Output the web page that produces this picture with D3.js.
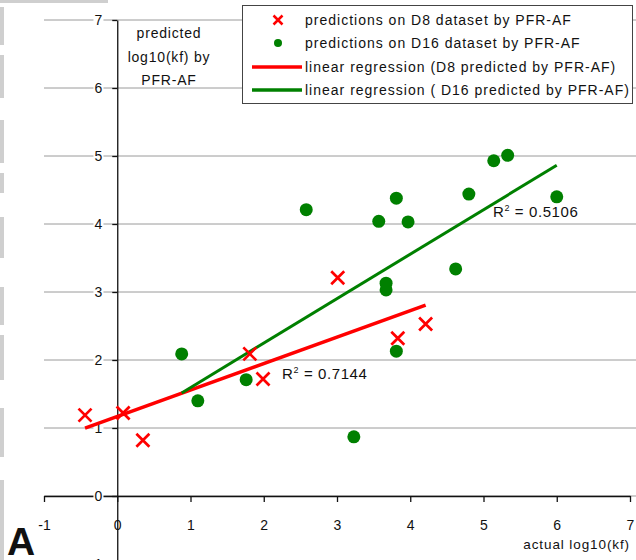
<!DOCTYPE html>
<html>
<head>
<meta charset="utf-8">
<style>
  body { margin: 0; background: #fff; }
  text { font-family: "Liberation Sans", Arial, sans-serif; fill: #111; }
</style>
</head>
<body>
<div id="my_dataviz"></div>
<script src="https://d3js.org/d3.v7.min.js"></script>
<script>
// actual vs predicted log10(kf)
var d8Actual     = [-0.44, 0.08, 0.35, 1.81, 1.99, 3.01, 3.83, 4.21];
var d8Predicted  = [ 1.19, 1.22, 0.82, 2.09, 1.72, 3.21, 2.32, 2.53];
var d16Actual    = [0.88, 1.10, 1.76, 2.58, 3.23, 3.57, 3.67, 3.67, 3.81, 3.81, 3.97, 4.62, 4.80, 5.14, 5.33, 6.00];
var d16Predicted = [2.09, 1.40, 1.71, 4.21, 0.87, 4.04, 3.13, 3.03, 4.38, 2.13, 4.03, 3.34, 4.44, 4.93, 5.01, 4.40];

// regression lines: [slope, intercept]
var d8Fit  = [0.389, 1.17];
var d16Fit = [0.654, 0.94];
var r2Labels = ["0.7144", "0.5106"];

var xTicks = [-1, 0, 1, 2, 3, 4, 5, 6, 7];
var yTicks = [-1, 0, 1, 2, 3, 4, 5, 6, 7];
var legendLabels = [
  "predictions on D8 dataset by PFR-AF",
  "predictions on D16 dataset by PFR-AF",
  "linear regression (D8 predicted by PFR-AF)",
  "linear regression ( D16 predicted by PFR-AF)"
];
var yTitle = ["predicted", "log10(kf) by", "PFR-AF"];
var xTitle = "actual log10(kf)";

var red = "#ff0000", green = "#008000";
var width = 636, height = 560;

var svg = d3.select("#my_dataviz")
  .append("svg")
    .attr("width", width)
    .attr("height", height);

var x = d3.scaleLinear().domain([-1, 7]).range([44, 630]);
var y = d3.scaleLinear().domain([-1, 7]).range([564, 20]);

// scan artefacts at the left edge
var edge = [[7, 45], [55, 98], [120, 163], [173, 193], [217, 258], [287, 325], [335, 380], [408, 457], [480, 560]];
svg.selectAll("rect.edge").data(edge).enter().append("rect")
  .attr("x", 0).attr("y", function(d) { return d[0]; })
  .attr("width", 4).attr("height", function(d) { return d[1] - d[0]; })
  .attr("fill", "#cfcfcf");
svg.append("rect").attr("x", 0).attr("y", 0).attr("width", 108).attr("height", 3).attr("fill", "#cfcfcf");

// horizontal grid
svg.selectAll("line.grid").data(yTicks).enter().append("line")
  .attr("x1", x(-1)).attr("x2", width)
  .attr("y1", function(d) { return y(d); })
  .attr("y2", function(d) { return y(d); })
  .attr("stroke", "#9a9a9a").attr("stroke-width", 1);

// legend box sits over the top gridlines
var legend = svg.append("g");
legend.append("rect")
  .attr("x", 242.5).attr("y", 5.5).attr("width", 390).attr("height", 98)
  .attr("fill", "#fff").attr("stroke", "#444");

var fmt = function(d) { return String(d); };  // plain hyphen for -1

// X axis
var xAxis = svg.append("g")
  .attr("transform", "translate(0," + y(0) + ")")
  .call(d3.axisBottom(x).tickValues(xTicks).tickSize(6).tickSizeOuter(0).tickPadding(18)
        .tickFormat(fmt));

// Y axis
var yAxis = svg.append("g")
  .attr("transform", "translate(" + x(0) + ",0)")
  .call(d3.axisLeft(y).tickValues(yTicks).tickSize(5).tickSizeOuter(0).tickPadding(10)
        .tickFormat(fmt));

[xAxis, yAxis].forEach(function(ax) {
  ax.select(".domain").attr("stroke", "#111").attr("stroke-width", 1.3);
  ax.selectAll(".tick line").attr("stroke", "#111").attr("stroke-width", 1.3);
  ax.selectAll("text").attr("font-size", 14).attr("fill", "#111")
    .style("font-family", "'Liberation Sans', Arial, sans-serif");
  // white patch behind every tick label
  ax.selectAll(".tick").each(function() {
    var t = d3.select(this).select("text");
    var b = t.node().getBBox();
    d3.select(this).insert("rect", "text")
      .attr("x", b.x - 1).attr("y", b.y).attr("width", b.width + 2).attr("height", b.height)
      .attr("fill", "#fff");
  });
});

// axis titles
svg.append("text")
  .attr("x", 630).attr("y", 549)
  .attr("text-anchor", "end").attr("font-size", 13.5).attr("letter-spacing", 0.9)
  .text(xTitle);

svg.selectAll("text.ytitle").data(yTitle).enter().append("text")
  .attr("x", 169).attr("y", function(d, i) { return 38 + i * 23.5; })
  .attr("text-anchor", "middle").attr("font-size", 14).attr("letter-spacing", 0.8)
  .text(function(d) { return d; });

// regression lines over each data range
function fitLine(xs, fit) {
  var ext = d3.extent(xs);
  return ext.map(function(v) { return [v, fit[0] * v + fit[1]]; });
}
var line = d3.line().x(function(d) { return x(d[0]); }).y(function(d) { return y(d[1]); });

svg.append("path").datum(fitLine(d8Actual, d8Fit))
  .attr("d", line).attr("stroke", red).attr("stroke-width", 3.5).attr("fill", "none");
svg.append("path").datum(fitLine(d16Actual, d16Fit))
  .attr("d", line).attr("stroke", green).attr("stroke-width", 3).attr("fill", "none");

// D16 dots
svg.selectAll("circle.d16").data(d16Actual).enter().append("circle")
  .attr("cx", function(d) { return x(d); })
  .attr("cy", function(d, i) { return y(d16Predicted[i]); })
  .attr("r", 6.5)
  .attr("fill", green);

// D8 crosses
var cross = function(s) { return "M" + -s + "," + -s + "L" + s + "," + s + "M" + -s + "," + s + "L" + s + "," + -s; };
svg.selectAll("path.d8").data(d8Actual).enter().append("path")
  .attr("transform", function(d, i) { return "translate(" + x(d) + "," + y(d8Predicted[i]) + ")"; })
  .attr("d", cross(6.5))
  .attr("stroke", red).attr("stroke-width", 2.7).attr("fill", "none");

// R squared labels
var r2Pos = [[2.25, 1.72], [5.13, 4.10]];
r2Labels.forEach(function(v, i) {
  var t = svg.append("text")
    .attr("x", x(r2Pos[i][0])).attr("y", y(r2Pos[i][1]))
    .attr("font-size", 15).attr("letter-spacing", 0.6);
  t.append("tspan").text("R");
  t.append("tspan").attr("font-size", 9).attr("dy", -6).text("2");
  t.append("tspan").attr("dy", 6).text(" = " + v);
});

// legend entries
legend.append("path").attr("transform", "translate(278,20)").attr("d", cross(4.5))
  .attr("stroke", red).attr("stroke-width", 2.5).attr("fill", "none");
legend.append("circle").attr("cx", 278).attr("cy", 43).attr("r", 4).attr("fill", green);
legend.append("line").attr("x1", 252).attr("x2", 302).attr("y1", 67).attr("y2", 67)
  .attr("stroke", red).attr("stroke-width", 3.5);
legend.append("line").attr("x1", 252).attr("x2", 302).attr("y1", 90).attr("y2", 90)
  .attr("stroke", green).attr("stroke-width", 3.5);
legend.selectAll("text").data(legendLabels).enter().append("text")
  .attr("x", 305).attr("y", function(d, i) { return 25 + i * 23.3; })
  .attr("font-size", 14).attr("letter-spacing", 1.0)
  .text(function(d) { return d; });

// panel letter
svg.append("text").attr("x", 7).attr("y", 555)
  .attr("font-size", 39).attr("font-weight", "bold")
  .text("A");
</script>
</body>
</html>
